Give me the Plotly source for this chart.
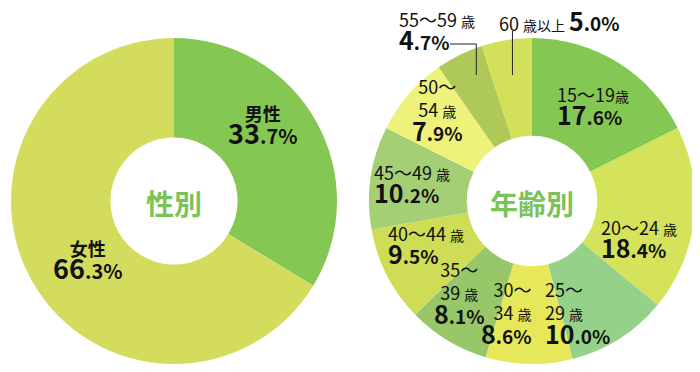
import math
import plotly.graph_objects as go

# ---------------- data ----------------
gender_labels = ["男性", "女性"]
gender_values = [33.7, 66.3]

age_labels = ["15〜19歳", "20〜24歳", "25〜29歳", "30〜34歳", "35〜39歳",
              "40〜44歳", "45〜49歳", "50〜54歳", "55〜59歳", "60歳以上"]
age_values = [17.6, 18.4, 10.0, 8.6, 8.1, 9.5, 10.2, 7.9, 4.7, 5.0]

gender_title = "性別"
age_title = "年齢別"

# ---------------- style ----------------
OFF = 8  # page body margin offset
W, H = 700 - OFF, 372 - OFF
gender_colors = ["#84C853", "#D3DC5C"]
age_colors = ["#84C853", "#D5E35B", "#96D18A", "#E6E85A", "#97C769",
              "#CEDD55", "#A4CF75", "#EFF27A", "#AFC959", "#D3E05A"]
title_color = "#7CC25A"
FONT = "Noto Sans CJK JP, Noto Sans, sans-serif"

# pie boxes in screen pixels (x0, x1, y0_top, y1_bottom)
left_box = (11, 337, 38, 364)
right_box = (369, 695, 38, 364)


def px(x):
    return (x - OFF) / W


def py(y):
    return 1 - (y - OFF) / H


def dom(box):
    x0, x1, y0, y1 = box
    return dict(x=[px(x0), px(x1)], y=[py(y1), py(y0)])


fig = go.Figure()
fig.add_trace(go.Pie(
    labels=gender_labels, values=gender_values, hole=0.39, sort=False,
    direction="clockwise", rotation=0, textinfo="none", hoverinfo="label+percent",
    marker=dict(colors=gender_colors, line=dict(width=0)),
    domain=dom(left_box), showlegend=False,
))
fig.add_trace(go.Pie(
    labels=age_labels, values=age_values, hole=0.40, sort=False,
    direction="clockwise", rotation=0, textinfo="none", hoverinfo="label+percent",
    marker=dict(colors=age_colors, line=dict(width=0)),
    domain=dom(right_box), showlegend=False,
))


def pct(v, big=25, small=19):
    s = f"{v:.1f}"
    whole, dec = s.split(".")
    return (f"<span style='font-size:{big}px'><b>{whole}</b></span>"
            f"<span style='font-size:{small}px'><b>.{dec}%</b></span>")


def sai(t, size=14):
    return f"<span style='font-size:{size}px'>{t}</span>"


def age_parts(lab):
    i = lab.index("歳")
    return lab[:i], lab[i:]


annotations = []

# center titles
for box, t in [(left_box, gender_title), (right_box, age_title)]:
    annotations.append(dict(
        x=px((box[0] + box[1]) / 2), y=py((box[2] + box[3]) / 2 + 2),
        xref="paper", yref="paper", text=f"<b>{t}</b>", showarrow=False,
        font=dict(family=FONT, size=28, color=title_color),
        xanchor="center", yanchor="middle"))

# gender labels: positions (block center px)
gender_pos = [(262, 126), (87, 261)]
for lab, v, (x, y) in zip(gender_labels, gender_values, gender_pos):
    annotations.append(dict(
        x=px(x), y=py(y), xref="paper", yref="paper", showarrow=False,
        text=f"<b>{lab}</b><br>" + pct(v, 27, 20),
        font=dict(family=FONT, size=18, color="#111111"),
        align="center", xanchor="center", yanchor="middle"))

# age labels layout: (anchor x px, center y px, xanchor, lines mode)
age_layout = [
    (555, 107, "left", 2),
    (599, 240, "left", 2),
    (543, 313, "left", 3),
    (533, 313, "right", 3),
    (459, 293, "center", 3),
    (386, 245, "left", 2),
    (372, 184, "left", 2),
    (437, 110, "center", 3),
    (397, 31, "left", 2),
    (497, 20, "left", 1),
]

for i, (lab, v, (x, y, xa, mode)) in enumerate(zip(age_labels, age_values, age_layout)):
    num, unit = age_parts(lab)
    if mode == 1:
        text = f"{num} {sai(unit, 14)} " + pct(v, 25, 19)
    elif mode == 2:
        sp = "" if i == 0 else " "
        text = f"{num}{sp}{sai(unit)}<br>" + pct(v)
    else:
        a, b = num.split("〜")
        text = f"{a}〜<br>{b} {sai(unit)}<br>" + pct(v)
    annotations.append(dict(
        x=px(x), y=py(y), xref="paper", yref="paper", showarrow=False,
        text=text, font=dict(family=FONT, size=18, color="#111111"),
        align=xa, xanchor=xa, yanchor="middle"))

# leader lines for the two small slices (computed from slice mid-angles)
cx = (right_box[0] + right_box[1]) / 2
total = sum(age_values)
cum = 0
mids = []
for v in age_values:
    mids.append((cum + v / 2) / total * 2 * math.pi)
    cum += v
r_lead = 125
end_y = 75
shapes = []
# 55-59
xm = cx + r_lead * math.sin(mids[8])
shapes.append(dict(type="path", xref="paper", yref="paper",
                   path=f"M {px(450)} {py(44)} L {px(xm)} {py(44)} L {px(xm)} {py(end_y)}",
                   line=dict(color="#222222", width=1)))
# 60+
xm = cx + r_lead * math.sin(mids[9])
shapes.append(dict(type="line", xref="paper", yref="paper",
                   x0=px(xm), x1=px(xm), y0=py(31), y1=py(end_y),
                   line=dict(color="#222222", width=1)))

fig.update_layout(
    width=W, height=H, margin=dict(l=0, r=0, t=0, b=0),
    paper_bgcolor="white", plot_bgcolor="white",
    annotations=annotations, shapes=shapes,
)

fig.write_html("out.html")
